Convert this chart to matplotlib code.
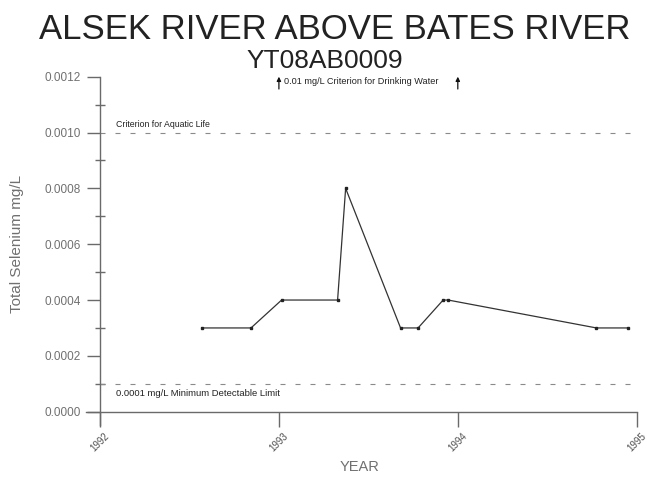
import matplotlib
matplotlib.use("Agg")
import matplotlib.pyplot as plt
from matplotlib.ticker import MultipleLocator, FormatStrFormatter

plt.rcParams['font.family'] = ['Liberation Sans', 'DejaVu Sans']

# Data (decimal years, mg/L)
years = [1992.568, 1992.844, 1993.015, 1993.328, 1993.373, 1993.680,
         1993.778, 1993.918, 1993.946, 1994.775, 1994.951]
selenium = [0.0003, 0.0003, 0.0004, 0.0004, 0.0008, 0.0003,
            0.0003, 0.0004, 0.0004, 0.0003, 0.0003]
aquatic_life = 0.001
detect_limit = 0.0001
drinking_arrows = [1993, 1994]
x_ticks = [1992, 1993, 1994, 1995]
x_labels = ["1992", "1993", "1994", "1995"]

W, H = 647, 478
fig = plt.figure(figsize=(W / 100, H / 100), dpi=100)
left_px, right_px, top_px, bot_px = 85.7, 636.7, 76.7, 425.1
ax = fig.add_axes([left_px / W, 1 - bot_px / H,
                   (right_px - left_px) / W, (bot_px - top_px) / H])
ax.set_xlim(1991.92, 1995)
ax.set_ylim(-0.000048, 0.0012)

axis_col = '#6a6a6a'
for s in ['top', 'right']:
    ax.spines[s].set_visible(False)
ax.spines['left'].set_position(('data', 1992))
ax.spines['bottom'].set_position(('data', 0))
for s in ['left', 'bottom']:
    ax.spines[s].set_color(axis_col)
    ax.spines[s].set_linewidth(1.0)

ax.yaxis.set_major_locator(MultipleLocator(0.0002))
ax.yaxis.set_minor_locator(MultipleLocator(0.0001))
ax.yaxis.set_major_formatter(FormatStrFormatter('%.4f'))
ax.tick_params(axis='y', which='major', direction='out', length=9.5, width=1,
               color=axis_col, labelsize=8.5, labelcolor='#707070', pad=4.5)
ax.tick_params(axis='y', which='minor', direction='inout', length=7, width=1,
               color=axis_col)
ax.set_xticks(x_ticks)
ax.set_xticklabels(x_labels, rotation=45, ha='center', va='top')
ax.tick_params(axis='x', which='major', direction='out', length=10.8, width=1,
               color=axis_col, labelsize=7, labelcolor='#505050', pad=3)

# Reference lines
for val in [aquatic_life, detect_limit]:
    ax.plot([1992, 1995], [val, val], color='#8a8a8a', lw=0.8,
            dashes=(4.5, 9))

ax.text(1992.09, 0.001028, "Criterion for Aquatic Life", fontsize=6.3,
        color='#222222', va='center', ha='left')
ax.text(1992.09, 0.000064, "0.0001 mg/L Minimum Detectable Limit",
        fontsize=6.8, color='#222222', va='center', ha='left')

# Drinking water arrows
for xa in drinking_arrows:
    ax.annotate('', xy=(xa, 0.00121), xytext=(xa, 0.001146),
                arrowprops=dict(arrowstyle='-|>', color='#111111', lw=0.9,
                                mutation_scale=6),
                annotation_clip=False)
ax.text(1993.03, 0.001182, "0.01 mg/L Criterion for Drinking Water",
        fontsize=6.6, color='#222222', va='center', ha='left', clip_on=False)

# Data series
ax.plot(years, selenium, color='#333333', lw=0.9, marker='s', markersize=2.0,
        markerfacecolor='#222222', markeredgecolor='#222222')

# Titles and axis labels
fig.text(335 / W, 1 - 29.5 / H, "ALSEK RIVER ABOVE BATES RIVER",
         fontsize=25, color='#222222', ha='center', va='center')
fig.text(324.5 / W, 1 - 61 / H, "YT08AB0009", fontsize=19,
         color='#222222', ha='center', va='center')
fig.text(17 / W, 1 - 244 / H, "Total Selenium mg/L", fontsize=11,
         color='#707070', rotation=90, ha='center', va='center')
fig.text(360 / W, 1 - 467 / H, "YEAR", fontsize=10.5,
         color='#707070', ha='center', va='center')

fig.savefig("out.png", dpi=100, facecolor='white')
